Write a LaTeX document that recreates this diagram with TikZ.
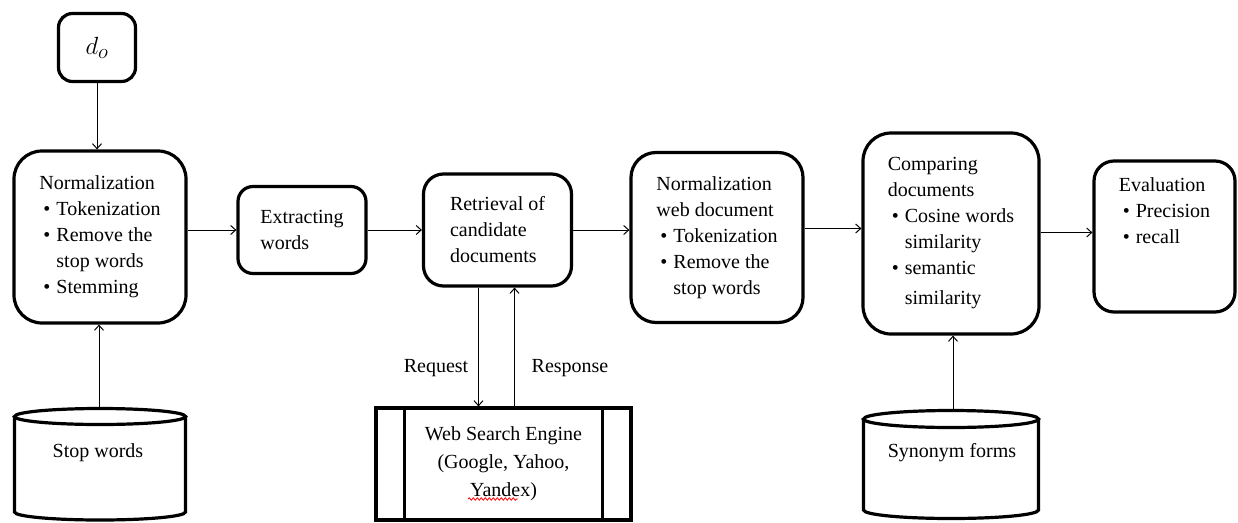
\documentclass[tikz,border=0pt]{standalone}
\usepackage{fontspec}
\setmainfont{Liberation Serif}
\usetikzlibrary{arrows.meta,decorations.pathmorphing}
\newcommand{\bitem}{\makebox[17pt][l]{\hspace{4pt}\textbullet}}
\newcommand{\bcont}{\hspace*{17pt}}
\begin{document}
\begin{tikzpicture}[x=1pt,y=1pt,
  box/.style={draw, line width=3.2pt, rounded corners=#1, align=left,
    font=\fontsize{20}{26}\selectfont, inner sep=0pt},
  box/.default=20pt,
  arr/.style={-{Straight Barb[length=5pt,width=9pt]}, line width=1pt},
  lbl/.style={font=\fontsize{20}{26}\selectfont, inner sep=0pt},
  cyl/.style={line width=3.2pt}
]
\useasboundingbox (0,0) rectangle (1238,-522);

% boxes
\node[box=14pt, minimum width=77pt, minimum height=68pt] (d) at (97,-47.5)
  {\fontsize{24.88}{30}\selectfont$d_o$};
\node[box=28pt, minimum width=172pt, minimum height=172pt] (norm) at (100,-237)
  {Normalization\\ \bitem Tokenization\\ \bitem Remove the\\ \bcont stop words\\ \bitem Stemming};
\node[box=15pt, minimum width=128pt, minimum height=87pt] (extr) at (302,-230)
  {Extracting\\ words};
\node[box=20pt, minimum width=148pt, minimum height=112pt] (retr) at (497.5,-230)
  {Retrieval of\\ candidate\\ documents};
\node[box=25pt, minimum width=172pt, minimum height=170pt] (nweb) at (717,-237.5)
  {Normalization\\ web document\\ \bitem Tokenization\\ \bitem Remove the\\ \bcont stop words};
\node[box=28pt, minimum width=176pt, minimum height=201pt] (comp) at (951,-233.5)
  {Comparing\\ documents\\ \bitem Cosine words\\ \bcont similarity\\ \bitem semantic\\[4pt] \bcont similarity};
\node[box=20pt, minimum width=141pt, minimum height=151pt] (eval) at (1164.5,-236.5)
  {Evaluation\\ \bitem Precision\\ \bitem recall\\ \mbox{}\\ \mbox{}};

% web search engine
\node[draw, line width=3.2pt, minimum width=255pt, minimum height=112pt, align=center,
  font=\fontsize{20}{28}\selectfont, inner sep=0pt] (web) at (503.5,-464)
  {Web Search Engine\\ (Google, Yahoo,\\ Yandex)};
\draw[line width=3.2pt] ([xshift=30pt]web.north west) -- ([xshift=30pt]web.south west);
\draw[line width=3.2pt] ([xshift=-30pt]web.north east) -- ([xshift=-30pt]web.south east);
\draw[red, line width=0.8pt, decorate, decoration={snake, amplitude=1.2pt, segment length=4pt}]
  (468,-499) -- (518,-499);

% cylinders
\draw[cyl] (100,-416.5) ellipse [x radius=85.5, y radius=8];
\draw[cyl] (14.5,-416.5) -- (14.5,-512) arc[start angle=180, end angle=360, x radius=85.5, y radius=8] -- (185.5,-416.5);
\node[lbl] (stop) at (98,-453) {Stop words};
\coordinate (stoptop) at (99,-408.5);

\draw[cyl] (951,-419) ellipse [x radius=87.5, y radius=8.5];
\draw[cyl] (863.5,-419) -- (863.5,-510) arc[start angle=180, end angle=360, x radius=87.5, y radius=8.5] -- (1038.5,-419);
\node[lbl] (syn) at (952,-453) {Synonym forms};
\coordinate (syntop) at (953,-410.5);

% labels
\node[lbl] (req) at (436,-368) {Request};
\node[lbl] (resp) at (570,-368) {Response};

% connectors
\draw[arr] (d) -- (d |- norm.north);
\draw[arr] (stoptop) -- (stoptop |- norm.south);
\draw[arr] (norm.east |- extr) -- (extr);
\draw[arr] (extr) -- (retr);
\draw[arr] (retr.east) -- (retr.east -| nweb.west);
\draw[arr] ([yshift=9pt]nweb.east) -- ([yshift=9pt]nweb.east -| comp.west);
\draw[arr] ([yshift=4pt]eval.west -| comp.east) -- ([yshift=4pt]eval.west);
\draw[arr] ([xshift=-19pt]retr.south) -- ([xshift=-19pt]retr.south |- web.north);
\draw[arr] ([xshift=17pt]retr.south |- web.north) -- ([xshift=17pt]retr.south);
\draw[arr] (syntop) -- (syntop |- comp.south);
\end{tikzpicture}
\end{document}
